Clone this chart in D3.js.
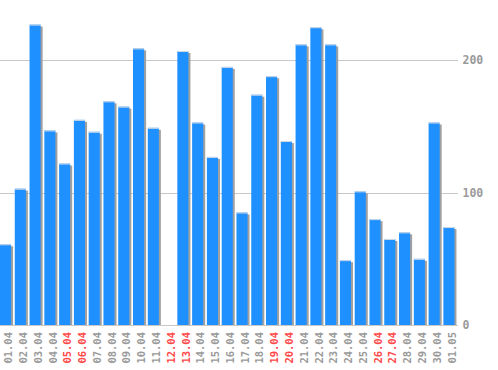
<!DOCTYPE html>
<html><head><meta charset="utf-8">
<script src="https://cdn.jsdelivr.net/npm/d3@7/dist/d3.min.js"></script>
<style>body{margin:0;background:#fff}svg{display:block}</style>
</head><body>
<svg id="c" width="498" height="370"></svg>
<script>
const categories = ["01.04","02.04","03.04","04.04","05.04","06.04","07.04","08.04","09.04","10.04","11.04","12.04","13.04","14.04","15.04","16.04","17.04","18.04","19.04","20.04","21.04","22.04","23.04","24.04","25.04","26.04","27.04","28.04","29.04","30.04","01.05"];
const values = [61,103,227,147,122,155,146,169,165,209,149,0,207,153,127,195,85,174,188,139,212,225,212,49,101,80,65,70,50,153,74];
const weekends = ["05.04","06.04","12.04","13.04","19.04","20.04","26.04","27.04"];
const yTicks = [0,100,200];

const svg = d3.select("#c");
const x = d3.scaleBand().domain(categories).range([-1.85, 456.3]).paddingInner(0.25).paddingOuter(0.125);
const y = d3.scaleLinear().domain([0,200]).range([325, 60.3]);
const font = "'DejaVu Sans Mono', monospace";

// gridlines
svg.append("g").selectAll("line").data(yTicks).join("line")
  .attr("x1",0).attr("x2",458).attr("y1",d=>Math.round(y(d))+0.5).attr("y2",d=>Math.round(y(d))+0.5)
  .attr("stroke","#c8c8c8").attr("stroke-width",1);

// y labels
svg.append("g").selectAll("text").data(yTicks).join("text")
  .attr("x",462.5).attr("y",d=>y(d)).attr("dy","0.35em")
  .attr("font-family",font).attr("font-size",11.5).attr("font-weight","bold").attr("fill","#9a9a9a")
  .text(d=>d);

const bars = svg.append("g").selectAll("g").data(categories.map((c,i)=>({c,v:values[i]})).filter(d=>d.v>0)).join("g");
bars.append("rect").attr("x",d=>x(d.c)+2).attr("y",d=>y(d.v)+2).attr("width",x.bandwidth())
  .attr("height",d=>Math.max(0,y(0)-y(d.v)-2)).attr("fill","#a0a0a0");
bars.append("rect").attr("x",d=>x(d.c)).attr("y",d=>y(d.v)).attr("width",x.bandwidth())
  .attr("height",d=>y(0)-y(d.v)).attr("fill","#1e90ff");
bars.append("rect").attr("x",d=>x(d.c)).attr("y",d=>y(d.v)).attr("width",x.bandwidth())
  .attr("height",1).attr("fill","#d4dbe3");

// x labels
svg.append("g").selectAll("text").data(categories).join("text")
  .attr("transform",d=>`translate(${x(d)+x.bandwidth()/2+3},332) rotate(-90)`)
  .attr("text-anchor","end").attr("dy","0.35em")
  .attr("font-family",font).attr("font-size",10.5).attr("font-weight","bold")
  .attr("fill",d=>weekends.includes(d)?"#ff4a4a":"#9a9a9a")
  .text(d=>d);
</script>
</body></html>
